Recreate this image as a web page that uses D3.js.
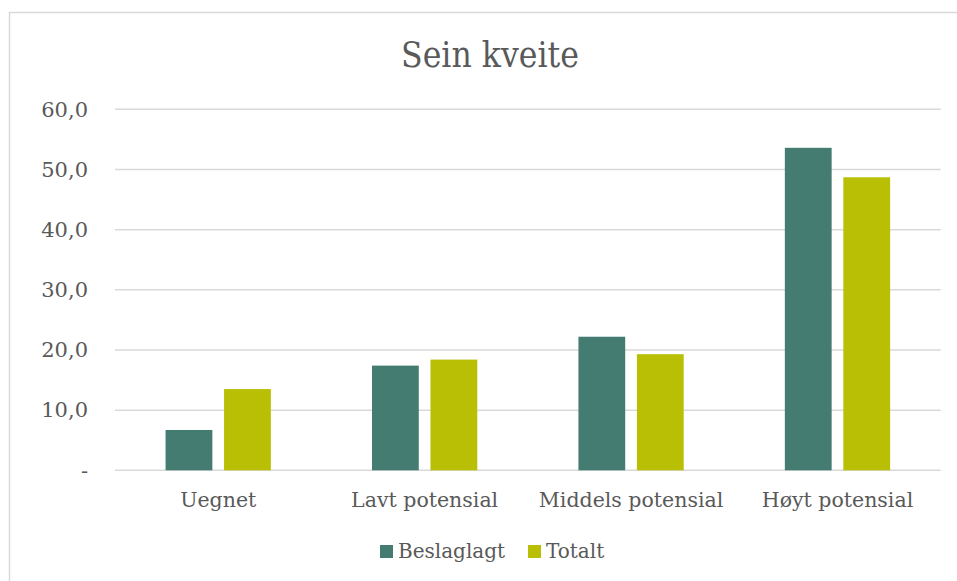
<!DOCTYPE html>
<html>
<head>
<meta charset="utf-8">
<script src="https://cdn.jsdelivr.net/npm/d3@7"></script>
<style>
  body { margin: 0; background: #fff; }
  text { font-family: "DejaVu Serif", Georgia, serif; fill: #595959; }
</style>
</head>
<body>
<div id="chart"></div>
<script>
const width = 957;
const height = 581;
const margin = { left: 115, top: 109.3, right: 16.3, bottom: 110.7 };

const categories = ["Uegnet", "Lavt potensial", "Middels potensial", "Høyt potensial"];
const seriesNames = ["Beslaglagt", "Totalt"];
const beslaglagt = [6.7, 17.4, 22.2, 53.6];
const totalt = [13.5, 18.4, 19.3, 48.7];
const yTicks = [0, 10, 20, 30, 40, 50, 60];
const colors = ["#457c72", "#b8bf05"];

var svg = d3.select("#chart").append("svg")
    .attr("width", width)
    .attr("height", height);

// outer chart border
svg.append("rect")
    .attr("x", 9.5)
    .attr("y", 12.5)
    .attr("width", 950)
    .attr("height", 600)
    .style("fill", "none")
    .style("stroke", "#d9d9d9")
    .style("stroke-width", 1.5);

svg.append("text")
    .attr("x", 490)
    .attr("y", 66.5)
    .attr("text-anchor", "middle")
    .attr("textLength", 178)
    .attr("lengthAdjust", "spacingAndGlyphs")
    .style("font-size", "35px")
    .text("Sein kveite");

var plotW = width - margin.left - margin.right;
var plotH = height - margin.top - margin.bottom;

var x0 = d3.scaleBand()
    .domain(categories)
    .range([margin.left, margin.left + plotW])
    .paddingInner(0.49)
    .paddingOuter(0.245);

var x1 = d3.scaleBand()
    .domain(seriesNames)
    .range([0, x0.bandwidth()])
    .paddingInner(0.2);

var y = d3.scaleLinear()
    .domain([0, 60])
    .range([margin.top + plotH, margin.top]);

// gridlines
svg.append("g")
    .selectAll("line")
    .data(yTicks)
    .enter()
    .append("line")
    .attr("x1", margin.left)
    .attr("x2", margin.left + plotW)
    .attr("y1", d => y(d))
    .attr("y2", d => y(d))
    .style("stroke", "#d9d9d9")
    .style("stroke-width", 1.5);

// y tick labels
svg.append("g")
    .selectAll("text")
    .data(yTicks)
    .enter()
    .append("text")
    .attr("x", 88)
    .attr("y", d => y(d))
    .attr("dy", "0.35em")
    .attr("text-anchor", "end")
    .style("font-size", "21px")
    .text(d => d === 0 ? "-" : d3.format(".1f")(d).replace(".", ","));

var rows = categories.map((c, i) => ({ cat: c, values: [beslaglagt[i], totalt[i]] }));

var groups = svg.append("g")
    .selectAll("g")
    .data(rows)
    .enter()
    .append("g")
    .attr("transform", d => "translate(" + x0(d.cat) + ",0)");

groups.selectAll("rect")
    .data(d => d.values.map((v, j) => ({ name: seriesNames[j], value: v, idx: j })))
    .enter()
    .append("rect")
    .attr("x", d => x1(d.name))
    .attr("width", x1.bandwidth())
    .attr("y", d => y(d.value))
    .attr("height", d => y(0) - y(d.value))
    .style("fill", d => colors[d.idx]);

// category labels
svg.append("g")
    .selectAll("text")
    .data(categories)
    .enter()
    .append("text")
    .attr("x", d => x0(d) + x0.bandwidth() / 2)
    .attr("y", 507)
    .attr("text-anchor", "middle")
    .style("font-size", "20.5px")
    .text(d => d);

// legend
var legendItems = [
    { name: seriesNames[0], x: 380, color: colors[0] },
    { name: seriesNames[1], x: 528, color: colors[1] }
];
legendItems.forEach(item => {
    svg.append("rect")
        .attr("x", item.x)
        .attr("y", 545)
        .attr("width", 13)
        .attr("height", 13)
        .style("fill", item.color);
    svg.append("text")
        .attr("x", item.x + 18)
        .attr("y", 558)
        .style("font-size", "20px")
        .text(item.name);
});
</script>
</body>
</html>
